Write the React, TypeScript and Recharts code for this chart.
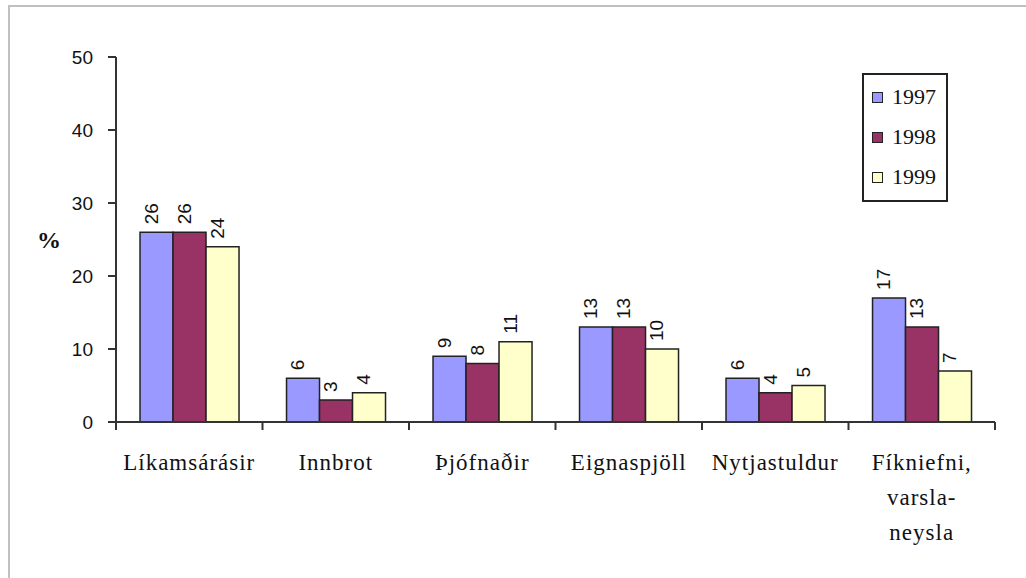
import React from 'react';
import { Bar, BarChart, LabelList, Legend, XAxis, YAxis } from 'recharts';

const categories = ['Líkamsárásir', 'Innbrot', 'Þjófnaðir', 'Eignaspjöll', 'Nytjastuldur', 'Fíkniefni,\nvarsla-\nneysla'];
const values1997 = [26, 6, 9, 13, 6, 17];
const values1998 = [26, 3, 8, 13, 4, 13];
const values1999 = [24, 4, 11, 10, 5, 7];
const yTicks = [0, 10, 20, 30, 40, 50];
const seriesKeys = ['y1997', 'y1998', 'y1999'];
const seriesNames = ['1997', '1998', '1999'];
const seriesColors = ['#9999ff', '#993366', '#ffffcc'];

const W = 1026;
const H = 578;
const PLOT_LEFT = 116;
const PLOT_RIGHT = 995;
const PLOT_TOP = 57;
const PLOT_BOTTOM = 422;
const Y_AXIS_W = 100;
const X_AXIS_H = 40;
const band = (PLOT_RIGHT - PLOT_LEFT) / categories.length;

const data = categories.map((name, i) => ({
  name,
  y1997: values1997[i],
  y1998: values1998[i],
  y1999: values1999[i],
}));

const CategoryTick = (props: any) => {
  const { x, y, payload, index } = props;
  const lines = String(payload.value).split('\n');
  const left = x - band / 2;
  return (
    <g>
      <line x1={left} y1={y - 8} x2={left} y2={y} stroke="#333" strokeWidth={2} />
      {index === categories.length - 1 && (
        <line x1={x + band / 2} y1={y - 8} x2={x + band / 2} y2={y} stroke="#333" strokeWidth={2} />
      )}
      <text x={x} y={y + 40} textAnchor="middle" fontFamily="Liberation Serif" fontSize={23} letterSpacing={1} fill="#111">
        {lines.map((l, i) => (
          <tspan key={i} x={x} dy={i === 0 ? 0 : 35}>{l}</tspan>
        ))}
      </text>
    </g>
  );
};

const ValueLabel = (props: any) => {
  const { x, y, width, value } = props;
  const cx = x + width / 2 + 1;
  const ty = y - 8;
  return (
    <text x={cx} y={ty} transform={`rotate(-90 ${cx} ${ty})`} textAnchor="start" fontFamily="Liberation Sans" fontSize={19} fill="#111">
      {value}
    </text>
  );
};

const LegendBox = () => (
  <div style={{ width: 86, height: 129, border: '2px solid #222', boxSizing: 'border-box', paddingTop: 2, paddingLeft: 8, background: '#fff', fontFamily: 'Liberation Serif', fontSize: 22, color: '#111' }}>
    {seriesNames.map((n, i) => (
      <div key={n} style={{ display: 'flex', alignItems: 'center', height: 40 }}>
        <span style={{ width: 11, height: 11, border: '1px solid #222', boxSizing: 'border-box', background: seriesColors[i], marginRight: 9 }} />
        {n}
      </div>
    ))}
  </div>
);

export default function App() {
  return (
    <div style={{ position: 'absolute', left: 0, top: 0, width: W, height: H, background: '#fff', overflow: 'hidden' }}>
      <div style={{ position: 'absolute', left: 8, top: 5, right: -4, bottom: -4, borderLeft: '2px solid #c0c0c0', borderTop: '2px solid #c0c0c0' }} />
      <BarChart
        width={W}
        height={H}
        data={data}
        margin={{ top: PLOT_TOP, right: W - PLOT_RIGHT, left: PLOT_LEFT - Y_AXIS_W, bottom: H - PLOT_BOTTOM - X_AXIS_H }}
        barCategoryGap="16.4%"
        barGap={0}
      >
        <XAxis
          xAxisId="frame"
          orientation="top"
          dataKey="name"
          height={0}
          tick={false}
          tickLine={false}
          axisLine={{ stroke: '#c0c0c0', strokeWidth: 2 }}
        />
        <YAxis
          yAxisId="frame"
          orientation="right"
          width={0}
          domain={[0, 50]}
          tick={false}
          tickLine={false}
          axisLine={{ stroke: '#c0c0c0', strokeWidth: 2 }}
        />
        <XAxis
          dataKey="name"
          height={X_AXIS_H}
          interval={0}
          tickSize={8}
          tickMargin={0}
          tickLine={{ stroke: 'none' }}
          axisLine={{ stroke: '#333', strokeWidth: 2 }}
          tick={<CategoryTick />}
        />
        <YAxis
          width={Y_AXIS_W}
          domain={[0, 50]}
          ticks={yTicks}
          interval={0}
          tickSize={8}
          tickMargin={15}
          axisLine={{ stroke: '#333', strokeWidth: 2 }}
          tickLine={{ stroke: '#333', strokeWidth: 2 }}
          tick={{ fontFamily: 'Liberation Sans', fontSize: 19, fill: '#111' }}
          label={{ value: '%', position: 'insideLeft', offset: 21, fontFamily: 'Liberation Serif', fontSize: 24, fontWeight: 'bold', fill: '#111' }}
        />
        <Legend
          layout="horizontal"
          verticalAlign="middle"
          align="center"
          content={<LegendBox />}
          wrapperStyle={{ left: 862, top: 73, width: 86, height: 129 }}
        />
        {seriesKeys.map((k, i) => (
          <Bar key={k} dataKey={k} name={seriesNames[i]} fill={seriesColors[i]} stroke="#222" strokeWidth={1.5} isAnimationActive={false}>
            <LabelList dataKey={k} content={<ValueLabel />} />
          </Bar>
        ))}
      </BarChart>
    </div>
  );
}
